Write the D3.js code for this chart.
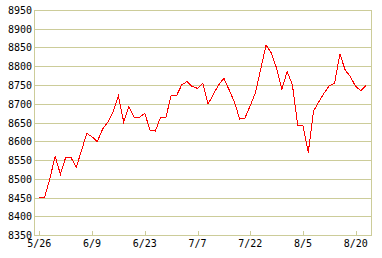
<!DOCTYPE html>
<html>
<head>
<meta charset="utf-8">
<script src="https://cdn.jsdelivr.net/npm/d3@7"></script>
<style>
  html, body { margin: 0; padding: 0; background: #ffffff; }
  svg { display: block; }
  text { font-family: "DejaVu Sans Mono", monospace; font-size: 10px; fill: #000; }
</style>
</head>
<body>
<svg id="chart" width="382" height="258"></svg>
<script>
// Daily closing values (one per trading day)
const values = [
  8450, 8450, 8500, 8560, 8512, 8557, 8557, 8530, 8575, 8621,
  8612, 8599, 8632, 8651, 8679, 8721, 8652, 8692, 8664, 8664,
  8674, 8630, 8627, 8664, 8664, 8721, 8721, 8750, 8759, 8746,
  8741, 8754, 8699, 8725, 8750, 8768, 8737, 8705, 8659, 8662,
  8695, 8730, 8793, 8857, 8835, 8795, 8739, 8786, 8750, 8643,
  8641, 8570, 8680, 8705, 8728, 8748, 8755, 8833, 8790, 8772,
  8746, 8735, 8750
];
const xTickLabels = ["5/26", "6/9", "6/23", "7/7", "7/22", "8/5", "8/20"];
const xTickIndex  = [0, 10, 20, 30, 40, 50, 60];
const yTicks = [8350, 8400, 8450, 8500, 8550, 8600, 8650, 8700, 8750, 8800, 8850, 8900, 8950];

const svg = d3.select("#chart");
const plot = { left: 34, right: 371, top: 10, bottom: 235 };
const gridColor = "#cccc99";

const x = d3.scaleLinear().domain([0, 60]).range([39.3, 355.7]);
const y = d3.scaleLinear().domain([8350, 8950]).range([plot.bottom, plot.top]);

// horizontal grid lines
svg.append("g").selectAll("line").data(yTicks).join("line")
  .attr("x1", plot.left).attr("x2", plot.right + 0.5)
  .attr("y1", d => Math.round(y(d)) + 0.5).attr("y2", d => Math.round(y(d)) + 0.5)
  .attr("stroke", gridColor).attr("stroke-width", 1)
  .attr("shape-rendering", "crispEdges");

// left and right borders
[plot.left, plot.right].forEach(px => {
  svg.append("line")
    .attr("x1", px + 0.5).attr("x2", px + 0.5)
    .attr("y1", plot.top).attr("y2", plot.bottom + 1)
    .attr("stroke", gridColor).attr("shape-rendering", "crispEdges");
});

// y labels
svg.append("g").selectAll("text").data(yTicks).join("text")
  .attr("x", 32).attr("y", d => Math.round(y(d)) + 0.5)
  .attr("dy", "0.35em")
  .attr("text-anchor", "end")
  .text(d => d);

// x ticks
svg.append("g").selectAll("line").data(xTickIndex).join("line")
  .attr("x1", d => Math.round(x(d)) + 0.5).attr("x2", d => Math.round(x(d)) + 0.5)
  .attr("y1", plot.bottom - 4).attr("y2", plot.bottom)
  .attr("stroke", gridColor).attr("shape-rendering", "crispEdges");

svg.append("g").selectAll("text").data(xTickIndex).join("text")
  .attr("x", d => x(d)).attr("y", 247)
  .attr("text-anchor", "middle")
  .text((d, i) => xTickLabels[i]);

// data line
const line = d3.line().x((d, i) => x(i)).y(d => y(d));
svg.append("path").datum(values)
  .attr("d", line)
  .attr("fill", "none")
  .attr("stroke", "#ff0000")
  .attr("stroke-width", 1)
  .attr("shape-rendering", "crispEdges");
</script>
</body>
</html>
